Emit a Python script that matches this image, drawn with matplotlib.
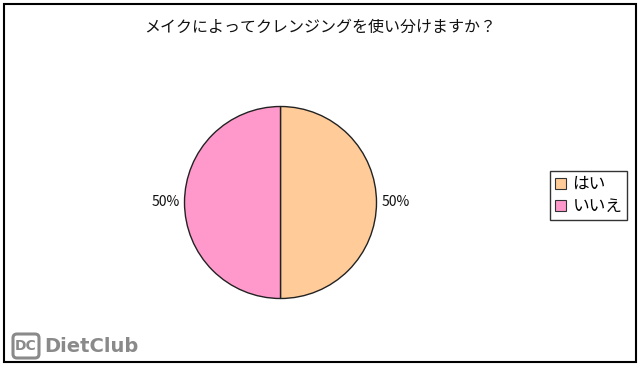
import matplotlib
matplotlib.use("Agg")
import matplotlib.pyplot as plt
from matplotlib.patches import Rectangle, FancyBboxPatch

plt.rcParams['font.family'] = ['Noto Sans CJK JP', 'DejaVu Sans']

title = "メイクによってクレンジングを使い分けますか？"
categories = ["はい", "いいえ"]
values = [50, 50]
colors = ["#FFCC99", "#FF99CC"]

W, H = 640, 368
fig = plt.figure(figsize=(W / 100, H / 100), dpi=100)
ax = fig.add_axes([0, 0, 1, 1])
ax.set_xlim(0, W)
ax.set_ylim(0, H)
ax.set_aspect('equal')
ax.axis('off')

# outer frame
ax.add_patch(Rectangle((3.5, H - 362), 632, 358, fill=False, ec='black', lw=1.5))

# pie
cx, cy, r = 280.5, H - 202.5, 96
wedges, texts, autotexts = ax.pie(
    values, colors=colors, startangle=90, counterclock=False,
    center=(cx, cy), radius=r, frame=True,
    autopct=lambda p: f"{p:.0f}%", pctdistance=1.2,
    wedgeprops=dict(edgecolor='#222222', linewidth=1.0),
    textprops=dict(fontsize=10, color='#111111'))
ax.set_xlim(0, W)
ax.set_ylim(0, H)
ax.axis('off')

ax.text(320, H - 27, title, ha='center', va='center', fontsize=11.5, color='#111111')

# legend
leg = ax.legend(wedges, categories, loc='upper left',
                bbox_to_anchor=(550 / W, 1 - 171 / H), fontsize=12,
                frameon=True, fancybox=False, edgecolor='black',
                handlelength=0.65, handleheight=0.65, handletextpad=0.4,
                borderpad=0.3, labelspacing=0.3, borderaxespad=0)
leg.get_frame().set_linewidth(1.0)
for h in leg.legend_handles:
    h.set_edgecolor('#333333')
    h.set_linewidth(0.8)

# watermark
gray = '#8a8a8a'
ax.add_patch(FancyBboxPatch((13, H - 358), 26, 24, boxstyle="round,pad=0,rounding_size=4",
                            fill=False, ec=gray, lw=2.2))
ax.text(26, H - 346, "DC", ha='center', va='center', fontsize=10, color=gray,
        fontweight='bold', family='DejaVu Sans')
ax.text(44, H - 346, "DietClub", ha='left', va='center', fontsize=14, color=gray,
        fontweight='bold', family='DejaVu Sans')

fig.savefig("out.png", dpi=100, facecolor='white')
